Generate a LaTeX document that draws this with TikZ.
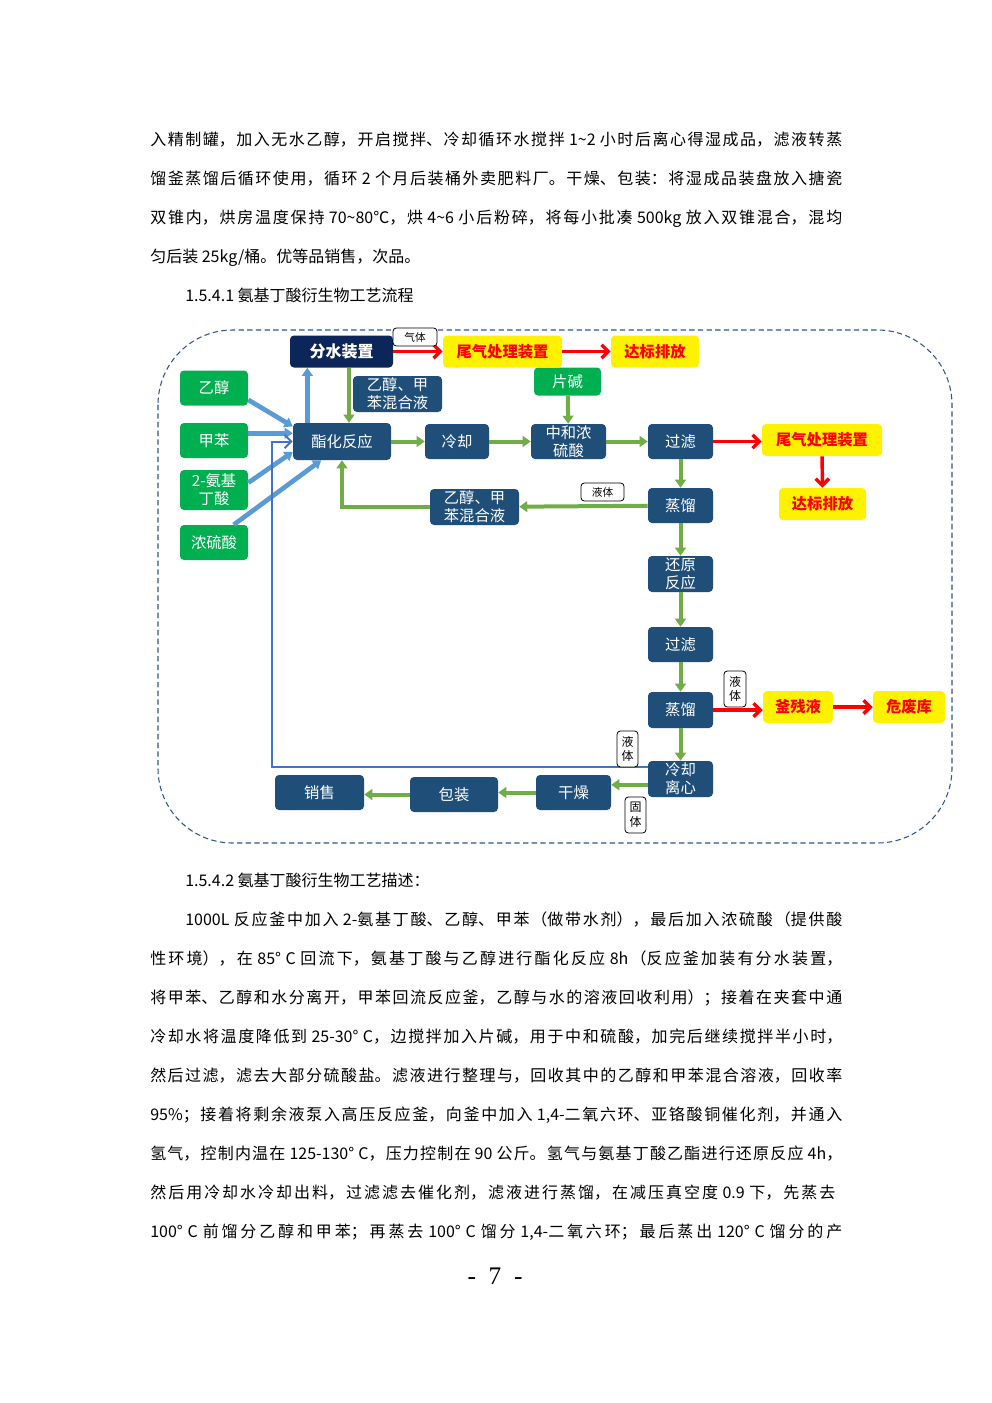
\documentclass[tikz,border=0pt]{standalone}
\usepackage{fontspec}
\setmainfont{Noto Sans CJK SC}
\newfontfamily\pagefont{Liberation Serif}
\usetikzlibrary{arrows.meta}
\XeTeXlinebreaklocale "zh"
\XeTeXlinebreakskip=0pt plus 3pt
\hbadness=10000
\newlength\pxu \setlength\pxu{0.75pt}
\newcommand\jline[2]{\parbox[b]{#1\pxu}{\parfillskip=0pt\relax #2}}

\definecolor{procblue}{HTML}{1F4E79}
\definecolor{navyblue}{HTML}{0C2659}
\definecolor{feedgreen}{HTML}{00B050}
\definecolor{flowgreen}{HTML}{70AD47}
\definecolor{feedblue}{HTML}{5B9BD5}
\definecolor{lineblue}{HTML}{4472C4}
\definecolor{frameblue}{HTML}{2F5597}

\tikzset{
  boxsize/.style 2 args={minimum width=#1*0.75pt, minimum height=#2*0.75pt},
  bodytxt/.style={inner sep=0pt, anchor=base west, font=\fontsize{12pt}{14pt}\selectfont},
  procbox/.style={fill=procblue, text=white, rounded corners=3pt, inner sep=0pt, align=center,
    font=\fontsize{11.5pt}{13.5pt}\selectfont},
  feedbox/.style={fill=feedgreen, text=white, rounded corners=3pt, inner sep=0pt, align=center,
    font=\fontsize{11.5pt}{13.5pt}\selectfont},
  wastebox/.style={fill=yellow, text=red, rounded corners=3pt, inner sep=0pt,
    font=\fontsize{11.5pt}{13.5pt}\selectfont\bfseries},
  tagbox/.style={draw=black, fill=white, rounded corners=2.5pt, inner sep=0pt, align=center,
    line width=0.6pt, font=\fontsize{8pt}{9pt}\selectfont},
  vtagbox/.style={tagbox, font=\fontsize{9pt}{11pt}\selectfont},
  flow/.style={draw=flowgreen, line width=3pt, -{Triangle[length=6pt,width=8pt]}},
  feed/.style={draw=feedblue, line width=3.5pt, -{Triangle[length=6pt,width=8pt]}},
  gas/.style={draw=red, line width=2.6pt, -{Straight Barb[length=5pt,width=10pt]}},
  back/.style={draw=lineblue, line width=1.5pt, -{Straight Barb[length=5pt,width=10pt]}},
}

\begin{document}
\begin{tikzpicture}[x=0.75pt,y=-0.75pt]
  \fill[white] (0,0) rectangle (992,1403);
  \useasboundingbox (0,0) rectangle (992,1403);

    % Text before the flow chart
  \node[bodytxt] (l1) at (150,145) {\jline{692}{入精制罐，加入无水乙醇，开启搅拌、冷却循环水搅拌 1\textasciitilde 2 小时后离心得湿成品，滤液转蒸}};
  \node[bodytxt] (l2) at (150,184) {\jline{692}{馏釜蒸馏后循环使用，循环 2 个月后装桶外卖肥料厂。干燥、包装：将湿成品装盘放入搪瓷}};
  \node[bodytxt] (l3) at (150,223) {\jline{692}{双锥内，烘房温度保持 70\textasciitilde 80℃，烘 4\textasciitilde 6 小后粉碎，将每小批凑 500kg 放入双锥混合，混均}};
  \node[bodytxt] (l4) at (150,262) {匀后装 25kg/桶。优等品销售，次品。};
  \node[bodytxt] (h1) at (185,301) {1.5.4.1 氨基丁酸衍生物工艺流程};

    % Frame of the flow chart
  \draw[frameblue, line width=0.8pt, dash pattern=on 4pt off 2.5pt, rounded corners=56pt] (158,330) rectangle (952,843);

    % Feed stocks
  \node[feedbox, boxsize={68}{35}] (yichun) at (214,388) {乙醇};
  \node[feedbox, boxsize={68}{35}] (jiaben) at (214,440.5) {甲苯};
  \node[feedbox, boxsize={68}{40}] (anji) at (214,490) {2-氨基\\丁酸};
  \node[feedbox, boxsize={68}{35}] (nongliu) at (214,542.5) {浓硫酸};
  \node[feedbox, boxsize={67}{28}] (pianjian) at (567.5,381.5) {片碱};

    % Process steps
  \node[procbox, fill=navyblue, font=\fontsize{12pt}{14pt}\selectfont\bfseries, boxsize={103}{32}] (fenshui) at (341.5,351.5) {分水装置};
  \node[procbox, boxsize={98}{37}] (zhihua) at (342,441.5) {酯化反应};
  \node[procbox, boxsize={89}{36}] (mixa) at (397.5,394) {乙醇、甲\\苯混合液};
  \node[procbox, boxsize={64}{35}] (lengque) at (457,441.5) {冷却};
  \node[procbox, boxsize={75}{35}] (zhonghe) at (568.5,441.5) {中和浓\\硫酸};
  \node[procbox, boxsize={65}{35}] (guolva) at (680.5,441.5) {过滤};
  \node[procbox, boxsize={65}{35}] (zhengliua) at (680.5,505.5) {蒸馏};
  \node[procbox, boxsize={89}{36}] (mixb) at (474.5,507) {乙醇、甲\\苯混合液};
  \node[procbox, boxsize={65}{36}] (huanyuan) at (680.5,574) {还原\\反应};
  \node[procbox, boxsize={65}{35}] (guolvb) at (680.5,644.5) {过滤};
  \node[procbox, boxsize={65}{36}] (zhengliub) at (680.5,710) {蒸馏};
  \node[procbox, boxsize={65}{36}] (lixin) at (680.5,779) {冷却\\离心};
  \node[procbox, boxsize={75}{35}] (ganzao) at (573.5,792.5) {干燥};
  \node[procbox, boxsize={88}{35}] (baozhuang) at (454,794.5) {包装};
  \node[procbox, boxsize={89}{35}] (xiaoshou) at (319.5,792.5) {销售};

    % Waste treatment
  \node[wastebox, boxsize={119}{32}] (weiqia) at (502.5,351.5) {尾气处理装置};
  \node[wastebox, boxsize={88}{32}] (dabiaoa) at (655,351.5) {达标排放};
  \node[wastebox, boxsize={120}{32}] (weiqib) at (822,440) {尾气处理装置};
  \node[wastebox, boxsize={87}{32}] (dabiaob) at (822.5,504) {达标排放};
  \node[wastebox, boxsize={70}{32}] (fucan) at (798,707) {釜残液};
  \node[wastebox, boxsize={72}{32}] (weifei) at (909,707) {危废库};

    % Feed arrows
  \draw[feed] (yichun.-19) -- (zhihua.163);
  \draw[feed] (jiaben.12) -- (zhihua.west |- jiaben.12);
  \draw[feed] (anji.12) -- (zhihua.192);
  \draw[feed] (nongliu.42) -- (zhihua.222);
  \draw[feed] ([xshift=-26pt]zhihua.north) -- ([xshift=-26pt]zhihua.north |- fenshui.south);

    % Main flow
  \draw[flow] ([xshift=5.6pt]fenshui.south) -- ([xshift=5.6pt]fenshui.south |- zhihua.north);
  \draw[flow] (zhihua) -- (lengque);
  \draw[flow] (lengque) -- (zhonghe);
  \draw[flow] (zhonghe) -- (guolva);
  \draw[flow] (pianjian) -- (zhonghe);
  \draw[flow] (guolva) -- (zhengliua);
  \draw[flow] (zhengliua) -- (mixb);
  \draw[flow] (mixb.west) -| (zhihua.south);
  \draw[flow] (zhengliua) -- (huanyuan);
  \draw[flow] (huanyuan) -- (guolvb);
  \draw[flow] (guolvb) -- (zhengliub);
  \draw[flow] (zhengliub) -- (lixin);
  \draw[flow] (lixin.-170) -- (ganzao.east |- lixin.-170);
  \draw[flow] (ganzao.west) -- (baozhuang.east |- ganzao.west);
  \draw[flow] (baozhuang.west) -- (xiaoshou.east |- baozhuang.west);

    % Gas and residue
  \draw[gas] (fenshui) -- (weiqia);
  \draw[gas] (weiqia) -- (dabiaoa);
  \draw[gas] (guolva.east) -- (weiqib.west |- guolva.east);
  \draw[gas] (weiqib) -- (dabiaob);
  \draw[gas] (zhengliub.east) -- (fucan.west |- zhengliub.east);
  \draw[gas] (fucan) -- (weifei);

    % Liquid back to the reactor
  \coordinate (bend) at (272,441.5);
  \draw[back] ([yshift=9pt]lixin.west) -| (bend) -- (zhihua.west);

    % Tags
  \node[tagbox, boxsize={44}{18}] (qiti) at (415,337) {气体};
  \node[tagbox, boxsize={43}{18}] (yetia) at (602.5,492) {液体};
  \node[vtagbox, boxsize={22}{36}] (yetib) at (735,689) {液\\体};
  \node[vtagbox, boxsize={21}{36}] (yetic) at (627.5,749) {液\\体};
  \node[vtagbox, boxsize={21}{36}] (guti) at (635.5,815) {固\\体};

    % Text after the flow chart
  \node[bodytxt] (h2) at (185,886) {1.5.4.2 氨基丁酸衍生物工艺描述：};
  \node[bodytxt] (p1) at (185,925) {\jline{657}{1000L 反应釜中加入 2-氨基丁酸、乙醇、甲苯（做带水剂），最后加入浓硫酸（提供酸}};
  \node[bodytxt] (p2) at (150,964) {\jline{692}{性环境），在 85° C 回流下，氨基丁酸与乙醇进行酯化反应 8h（反应釜加装有分水装置，}};
  \node[bodytxt] (p3) at (150,1003) {\jline{692}{将甲苯、乙醇和水分离开，甲苯回流反应釜，乙醇与水的溶液回收利用）；接着在夹套中通}};
  \node[bodytxt] (p4) at (150,1042) {\jline{692}{冷却水将温度降低到 25-30° C，边搅拌加入片碱，用于中和硫酸，加完后继续搅拌半小时，}};
  \node[bodytxt] (p5) at (150,1081) {\jline{692}{然后过滤，滤去大部分硫酸盐。滤液进行整理与，回收其中的乙醇和甲苯混合溶液，回收率}};
  \node[bodytxt] (p6) at (150,1120) {\jline{692}{95\%；接着将剩余液泵入高压反应釜，向釜中加入 1,4-二氧六环、亚铬酸铜催化剂，并通入}};
  \node[bodytxt] (p7) at (150,1159) {\jline{692}{氢气，控制内温在 125-130° C，压力控制在 90 公斤。氢气与氨基丁酸乙酯进行还原反应 4h，}};
  \node[bodytxt] (p8) at (150,1198) {\jline{685}{然后用冷却水冷却出料，过滤滤去催化剂，滤液进行蒸馏，在减压真空度 0.9 下，先蒸去}};
  \node[bodytxt] (p9) at (150,1237) {\jline{692}{100° C 前馏分乙醇和甲苯；再蒸去 100° C 馏分 1,4-二氧六环；最后蒸出 120° C 馏分的产}};

    % Page number
  \node[font=\pagefont\fontsize{19pt}{21pt}\selectfont] (pnum) at (495,1276) {-\ \ 7\ \ -};
\end{tikzpicture}
\end{document}
